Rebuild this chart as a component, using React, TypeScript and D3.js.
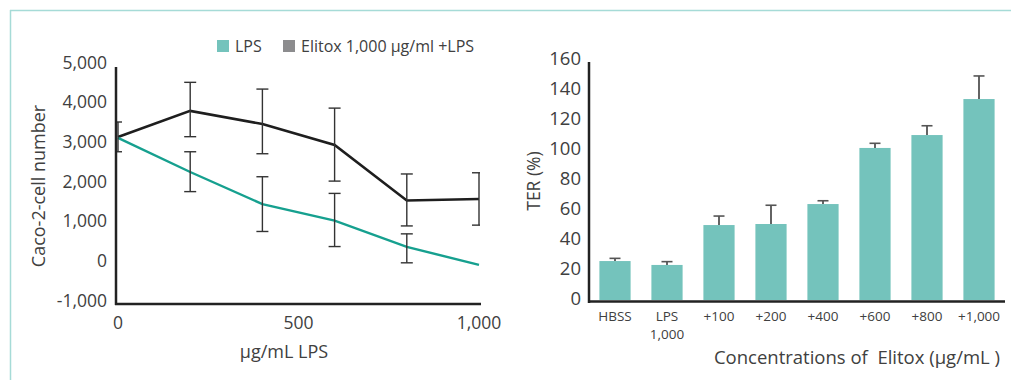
import React from "react";
import { scaleLinear, scaleBand, line } from "d3";

const doses = [0, 200, 400, 600, 800, 1000];
const lpsMean = [3100, 2240, 1430, 1015, 350, -100];
const lpsLow = [null, 1745, 740, 360, -50, null];
const lpsHigh = [null, 2750, 2120, 1700, 680, null];
const elitoxMean = [3120, 3780, 3450, 2920, 1520, 1560];
const elitoxLow = [2750, 3130, 2700, 2010, 880, 900];
const elitoxHigh = [3500, 4500, 4330, 3850, 2190, 2220];
const leftYTicks = [-1000, 0, 1000, 2000, 3000, 4000, 5000];
const leftXTicks = [0, 500, 1000];

const terCats = ["HBSS", "LPS", "+100", "+200", "+400", "+600", "+800", "+1,000"];
const terValues = [25.3, 22.7, 49.3, 50, 63.3, 100.7, 109.3, 133.3];
const terErr = [27.1, 24.9, 55.3, 62.5, 65.5, 103.8, 115.5, 148.7];
const rightYTicks = [0, 20, 40, 60, 80, 100, 120, 140, 160];

const fmt = (v: number) => v.toLocaleString("en-US");
const FONT = "'Open Sans', Lato, sans-serif";
const TEXT = "#404040";
const TEAL_LINE = "#16a08f";
const TEAL_BAR = "#74c3bc";

function LeftChart() {
  const x = scaleLinear().domain([0, 1000]).range([118, 479]);
  const y = scaleLinear().domain([-1000, 5000]).range([300.5, 62.5]);
  const path = line<number>()
    .x((_, i) => x(doses[i]))
    .y((d) => y(d));

  const errBar = (i: number, lo: number | null, hi: number | null, key: string) => {
    if (lo == null || hi == null) return null;
    const cx = x(doses[i]);
    const x0 = i === 0 ? cx - 2 : i === doses.length - 1 ? cx - 7 : cx - 6;
    const x1 = i === 0 ? cx + 4 : i === doses.length - 1 ? cx + 1 : cx + 6;
    return (
      <g key={key} stroke="#333" strokeWidth={1.4}>
        <line x1={cx} x2={cx} y1={y(lo)} y2={y(hi)} />
        <line x1={x0} x2={x1} y1={y(lo)} y2={y(lo)} />
        <line x1={x0} x2={x1} y1={y(hi)} y2={y(hi)} />
      </g>
    );
  };

  return (
    <g fontFamily={FONT} fill={TEXT}>
      {/* legend */}
      <rect x={217} y={40} width={12} height={12} fill={TEAL_BAR} />
      <text x={235} y={51.5} fontSize={16}>LPS</text>
      <rect x={283} y={40} width={12} height={12} fill="#8c8c8e" />
      <text x={301} y={51.5} fontSize={16}>Elitox 1,000 μg/ml +LPS</text>

      {leftYTicks.map((t) => (
        <text key={t} x={107} y={y(t)} dy="0.35em" textAnchor="end" fontSize={17.5}>
          {fmt(t)}
        </text>
      ))}
      {leftXTicks.map((t) => (
        <text key={t} x={x(t)} y={323} dy="0.35em" textAnchor="middle" fontSize={17.5}>
          {fmt(t)}
        </text>
      ))}

      <path d={path(elitoxMean) || ""} fill="none" stroke="#1e1e1e" strokeWidth={2.6} />
      <path d={path(lpsMean) || ""} fill="none" stroke={TEAL_LINE} strokeWidth={2.4} />
      {doses.map((_, i) => errBar(i, elitoxLow[i], elitoxHigh[i], "e" + i))}
      {doses.map((_, i) => errBar(i, lpsLow[i], lpsHigh[i], "l" + i))}

      <line x1={116} x2={116} y1={67} y2={305} stroke="#222" strokeWidth={2.5} />
      <line x1={115} x2={481} y1={304} y2={304} stroke="#222" strokeWidth={2.5} />

      <text
        transform={`translate(45,186) rotate(-90)`}
        textAnchor="middle"
        fontSize={18}
      >
        Caco-2-cell number
      </text>
      <text x={284} y={352} dy="0.35em" textAnchor="middle" fontSize={18}>
        μg/mL LPS
      </text>
    </g>
  );
}

function RightChart() {
  const x = scaleBand<string>().domain(terCats).range([589, 1005]).paddingInner(0.4).paddingOuter(0.2);
  const y = scaleLinear().domain([0, 160]).range([299, 59]);
  const bw = x.bandwidth();

  return (
    <g fontFamily={FONT} fill={TEXT}>
      {rightYTicks.map((t) => (
        <text key={t} x={581} y={y(t)} dy="0.35em" textAnchor="end" fontSize={18.5}>
          {t}
        </text>
      ))}
      {terCats.map((c, i) => {
        const bx = x(c) as number;
        const cx = bx + bw / 2;
        return (
          <g key={c}>
            <line x1={cx} x2={cx} y1={y(terValues[i])} y2={y(terErr[i])} stroke="#222" strokeWidth={1.4} />
            <line x1={cx - 5.5} x2={cx + 5.5} y1={y(terErr[i])} y2={y(terErr[i])} stroke="#555" strokeWidth={1.6} />
            <rect x={bx} y={y(terValues[i])} width={bw} height={y(0) - y(terValues[i]) + 1} fill={TEAL_BAR} />
            <text x={cx} y={316} dy="0.35em" textAnchor="middle" fontSize={13.5}>
              {c}
            </text>
            {c === "LPS" && (
              <text x={cx} y={334} dy="0.35em" textAnchor="middle" fontSize={13.5}>
                1,000
              </text>
            )}
          </g>
        );
      })}
      <line x1={589} x2={589} y1={62} y2={303} stroke="#222" strokeWidth={2.5} />
      <line x1={588} x2={1005} y1={301.5} y2={301.5} stroke="#222" strokeWidth={2.5} />

      <text transform={`translate(540,181) rotate(-90)`} textAnchor="middle" fontSize={17.5}>
        TER (%)
      </text>
      <text x={1000} y={358} dy="0.35em" textAnchor="end" fontSize={18.5} style={{ whiteSpace: "pre" }}>
        {"Concentrations of  Elitox (μg/mL )"}
      </text>
    </g>
  );
}

export default function App() {
  return (
    <svg
      width={1011}
      height={380}
      style={{ position: "absolute", left: 0, top: 0, background: "#fff" }}
    >
      <line x1={10} x2={1011} y1={10.5} y2={10.5} stroke="#a6dbd7" strokeWidth={1.5} />
      <line x1={10.5} x2={10.5} y1={10} y2={380} stroke="#a6dbd7" strokeWidth={1.5} />
      <LeftChart />
      <RightChart />
    </svg>
  );
}
